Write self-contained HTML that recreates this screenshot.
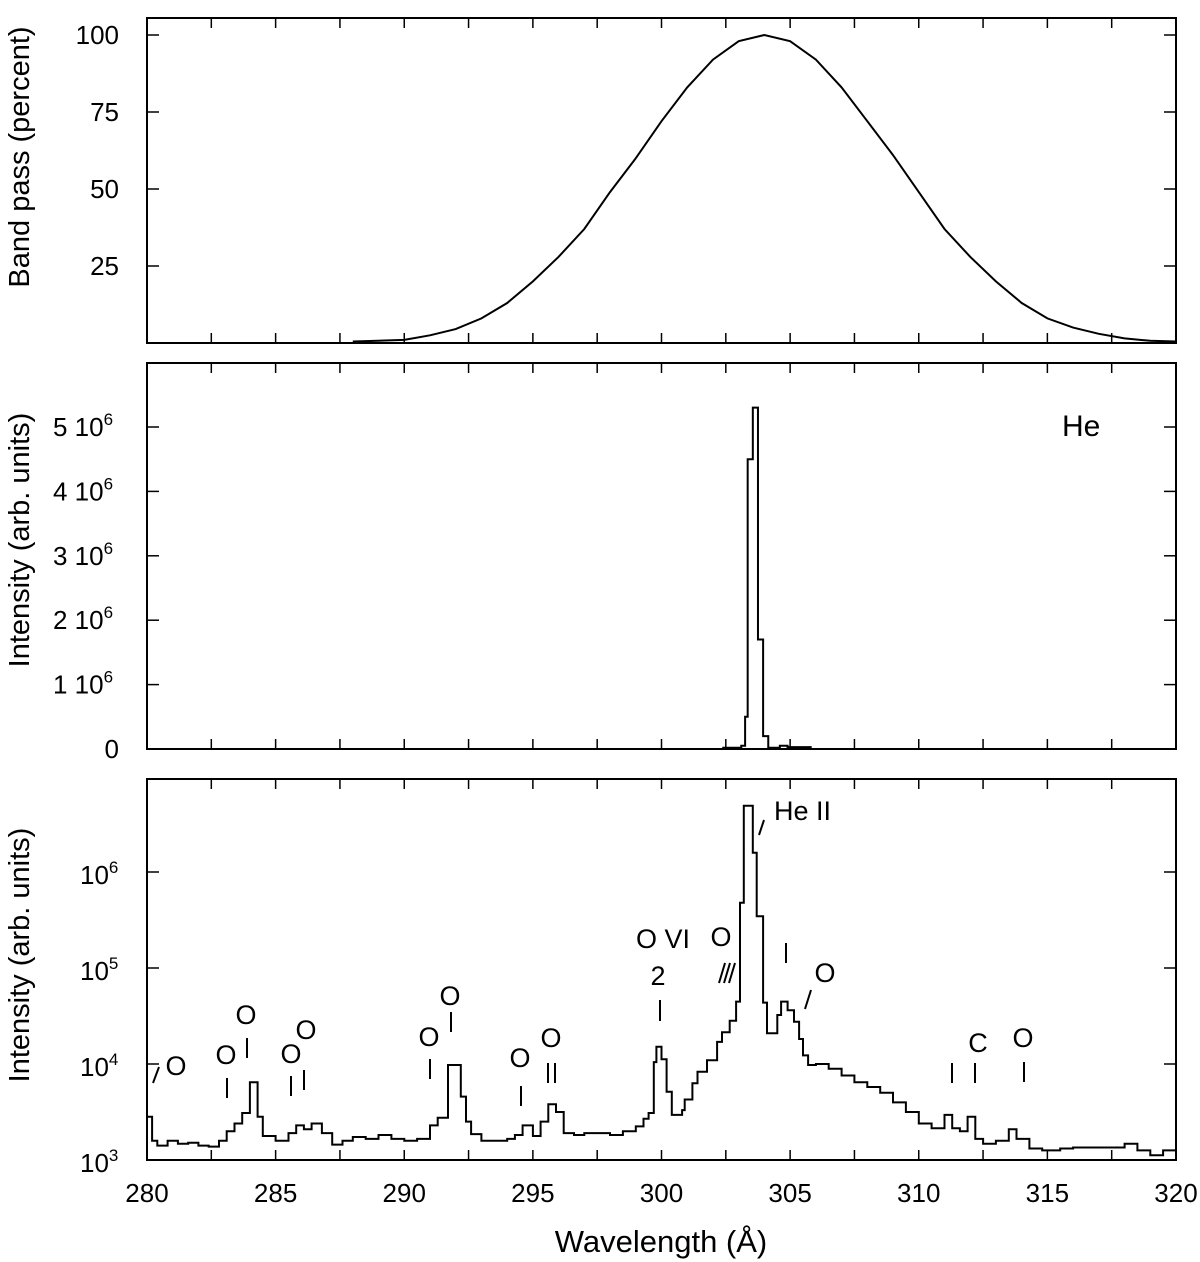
<!DOCTYPE html>
<html><head><meta charset="utf-8"><style>
body{margin:0;background:#fff}
svg{display:block;font-family:"Liberation Sans",sans-serif}
</style></head><body>
<svg id="c" width="1200" height="1262" viewBox="0 0 1200 1262"></svg>
<script>
// Band pass data
const bandWl=[288,290,291,292,293,294,295,296,297,298,299,300,301,302,303,304,305,306,307,308,309,310,311,312,313,314,315,316,317,318,319,320];
const bandPct=[0.5,1,2.5,4.5,8,13,20,28,37,49,60,72,83,92,98,100,98,92,83,72,61,49,37,28,20,13,8,5,3,1.5,0.7,0.5];
// He spectrum (histogram, bin start wavelengths and intensities in 1e6)
const heWl=[302.4,303.1,303.25,303.35,303.55,303.75,303.95,304.15,304.6,304.9,305.8];
const heVal=[0.02,0.05,0.5,4.5,5.3,1.7,0.2,0.02,0.05,0.03,0];
// Observed spectrum (bin starts, log10 intensity)
const spWl=[280,280.2,280.4,280.8,281.2,281.6,282,282.4,282.8,283.1,283.4,283.7,284,284.3,284.5,285,285.5,285.8,286.1,286.4,286.8,287.2,287.6,288,288.5,289,289.5,290,290.5,291,291.3,291.7,292.2,292.4,292.6,293,293.5,294,294.3,294.6,295,295.3,295.6,295.9,296.2,296.6,297,297.5,298,298.5,299,299.3,299.5,299.7,299.8,300,300.2,300.4,300.8,300.9,301.2,301.4,301.77,302.16,302.35,302.65,302.9,303.05,303.2,303.55,303.7,303.95,304.1,304.5,304.65,304.9,305.15,305.35,305.5,305.7,306,306.5,307,307.5,308,308.5,309,309.5,310,310.5,311,311.3,311.6,311.9,312.2,312.5,313,313.5,313.8,314.3,314.8,315.5,316,317,318,318.5,319,319.5,320];
const spLog=[3.45,3.2,3.15,3.2,3.17,3.18,3.15,3.14,3.2,3.3,3.38,3.49,3.81,3.45,3.25,3.2,3.28,3.36,3.32,3.38,3.28,3.16,3.2,3.24,3.22,3.26,3.22,3.2,3.22,3.36,3.44,3.99,3.66,3.4,3.27,3.2,3.2,3.22,3.26,3.36,3.25,3.4,3.58,3.5,3.28,3.26,3.28,3.28,3.26,3.3,3.35,3.43,3.49,4.02,4.18,4.05,3.71,3.47,3.52,3.63,3.8,3.92,4.04,4.23,4.33,4.45,4.65,5.68,6.69,6.2,5.54,4.64,4.32,4.51,4.65,4.56,4.44,4.26,4.09,3.99,4.0,3.95,3.88,3.81,3.76,3.7,3.6,3.5,3.38,3.33,3.47,3.33,3.3,3.45,3.22,3.17,3.2,3.32,3.22,3.12,3.1,3.12,3.13,3.13,3.17,3.1,3.05,3.1,3.05];
const xTicksMajor=[280,285,290,295,300,305,310,315,320];
const bandTicks=[25,50,75,100];
const heTicks=[0,1,2,3,4,5];
const logTicks=[3,4,5,6];

const NS="http://www.w3.org/2000/svg";
const svg=document.getElementById('c');
function el(t,a,p){const e=document.createElementNS(NS,t);for(const k in a)e.setAttribute(k,a[k]);(p||svg).appendChild(e);return e;}
const X=w=>147+(w-280)*(1029/40);
const P1={t:18,b:343}, P2={t:363,b:749}, P3={t:779,b:1160};
const y1=v=>343-v*3.08;
const y2=v=>749-v*64.4;
const y3=l=>1160-(l-3)*96;

[P1,P2,P3].forEach((p,i)=>{
  const r=el('rect',{x:147,y:p.t,width:1029,height:p.b-p.t,fill:'none',stroke:'#000','stroke-width':2});
  
  
  for(let w=280;w<=320;w+=2.5){
    el('line',{x1:X(w),x2:X(w),y1:p.t,y2:p.t+10,stroke:'#000','stroke-width':1.5});
    el('line',{x1:X(w),x2:X(w),y1:p.b,y2:p.b-10,stroke:'#000','stroke-width':1.5});
  }
});
function ytick(y){
  el('line',{x1:147,x2:159,y1:y,y2:y,stroke:'#000','stroke-width':1.5});
  el('line',{x1:1176,x2:1164,y1:y,y2:y,stroke:'#000','stroke-width':1.5});
}
function txt(x,y,s,opts){const t=el('text',Object.assign({x:x,y:y,'font-size':26,fill:'#000'},opts||{}));t.textContent=s;return t;}

// panel 1
bandTicks.forEach(v=>{ytick(y1(v));const t=txt(119,y1(v)+9,String(v),{'text-anchor':'end'});

});
let d='';bandWl.forEach((w,i)=>{d+=(i?'L':'M')+X(w).toFixed(1)+','+y1(bandPct[i]).toFixed(1);});
const bl=el('path',{d:d,fill:'none',stroke:'#000','stroke-width':2});


const yt1=txt(0,0,'Band pass (percent)',{transform:'translate(29,157) rotate(-90)','text-anchor':'middle','font-size':29});



// panel 2
heTicks.forEach(v=>{ytick(y2(v));
  let t;
  if(v===0){t=txt(119,y2(v)+9,'0',{'text-anchor':'end'});}
  else{t=txt(53,y2(v)+9,v+' 10');const s=el('tspan',{dy:-11,'font-size':17},t);s.textContent='6';}
  
  
});
d='M'+X(heWl[0])+','+y2(0);
heWl.forEach((w,i)=>{const x0=X(w),x1=X(i<heWl.length-1?heWl[i+1]:w+0.2);d+='L'+x0+','+y2(heVal[i])+'L'+x1+','+y2(heVal[i]);});
const hp=el('path',{d:d,fill:'none',stroke:'#000','stroke-width':2});


const he=txt(1062,436,'He',{'font-size':30});


const yt2=txt(0,0,'Intensity (arb. units)',{transform:'translate(29,540) rotate(-90)','text-anchor':'middle','font-size':29});



// panel 3
logTicks.forEach(v=>{ytick(y3(v));const t=txt(80,y3(v)+12,'10');const s=el('tspan',{dy:-11,'font-size':17},t);s.textContent=String(v);

});
d='';
spWl.forEach((w,i)=>{const x0=X(w),x1=X(i<spWl.length-1?spWl[i+1]:320);const y=y3(spLog[i]);d+=(i?'L':'M')+x0.toFixed(1)+','+y.toFixed(1)+'L'+x1.toFixed(1)+','+y.toFixed(1);});
const sp=el('path',{d:d,fill:'none',stroke:'#000','stroke-width':2});


const yt3=txt(0,0,'Intensity (arb. units)',{transform:'translate(29,955) rotate(-90)','text-anchor':'middle','font-size':29});



xTicksMajor.forEach(w=>{const t=txt(X(w),1202,String(w),{'text-anchor':'middle'});

});
const xt=txt(661,1252,'Wavelength (Å)',{'text-anchor':'middle','font-size':31});



const ann=[[176,1075,'O'],[226,1064,'O'],[246,1024,'O'],[291,1063,'O'],[306,1039,'O'],[429,1046,'O'],[450,1005,'O'],[520,1067,'O'],[551,1047,'O'],[663,948,'O VI'],[658,985,'2'],[721,946,'O'],[774,820,'He II'],[825,982,'O'],[978,1052,'C'],[1023,1047,'O']];
ann.forEach(a=>{const t=txt(a[0],a[1],a[2],{'text-anchor':a[2]==='He II'?'start':'middle','font-size':27});

});
const marks=[[153,1083,159,1067],[227,1098,227,1078],[247,1058,247,1038],[291,1096,291,1076],[304,1090,304,1070],[430,1079,430,1059],[451,1032,451,1012],[521,1106,521,1086],[548,1083,548,1063],[555,1083,555,1063],[660,1021,660,1000],[719,983,725,963],[724,983,730,963],[729,983,735,963],[759,835,764,820],[786,963,786,943],[805,1009,811,990],[952,1083,952,1063],[975,1083,975,1063],[1024,1082,1024,1062]];
marks.forEach(m=>{const l=el('line',{x1:m[0],y1:m[1],x2:m[2],y2:m[3],stroke:'#000','stroke-width':2});

});
</script>
</body></html>
